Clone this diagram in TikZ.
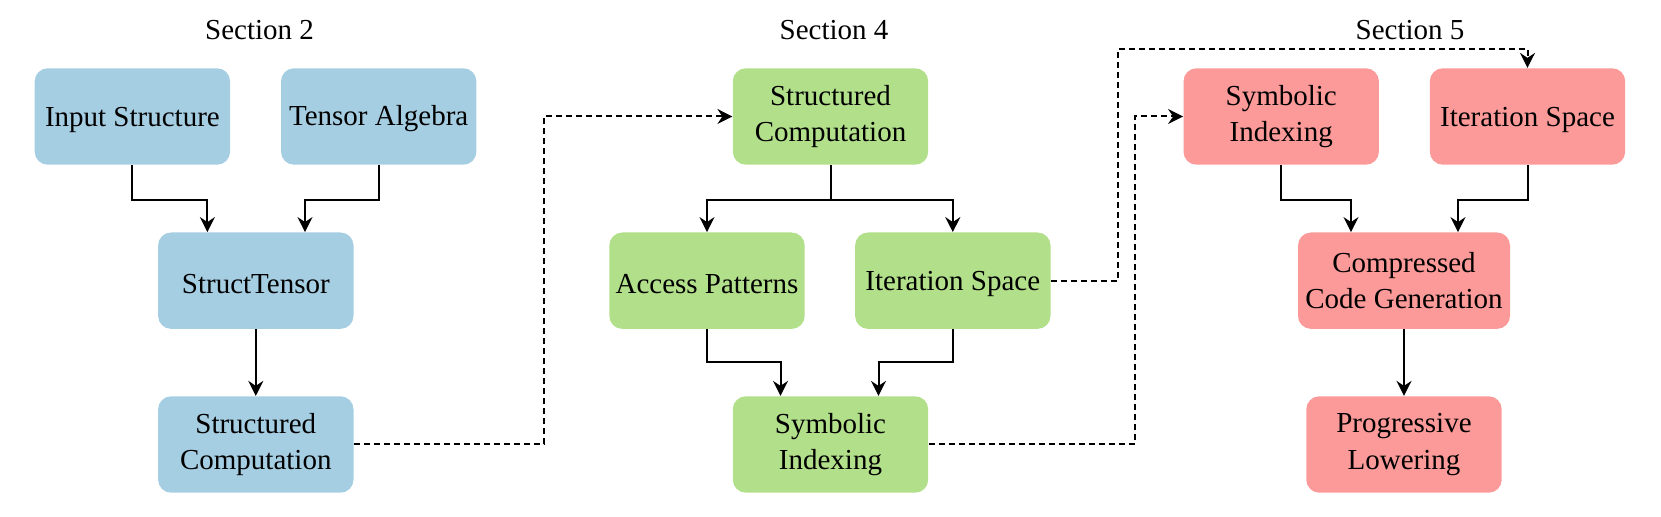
\documentclass[tikz,border=0pt]{standalone}
\usepackage{fontspec}
\setmainfont{Liberation Serif}
\usetikzlibrary{arrows.meta}
\definecolor{cblue}{HTML}{A6CEE3}
\definecolor{cgreen}{HTML}{B2DF8A}
\definecolor{cred}{HTML}{FB9A99}
\tikzset{
  box/.style={rounded corners=6.5pt, minimum width=97.7pt, minimum height=48.2pt, inner sep=0pt, align=center, font=\fontsize{14.5}{18.3}\selectfont, execute at begin node={\rule{0pt}{12.6pt}}},
  bluebox/.style={box, fill=cblue},
  greenbox/.style={box, fill=cgreen},
  redbox/.style={box, fill=cred},
  title/.style={font=\fontsize{14.5}{18.3}\selectfont, inner sep=0pt},
  arr/.style={line width=1pt, -{Stealth[length=7.5pt,width=7.5pt,inset=2.5pt]}},
  dsh/.style={arr, dashed, dash pattern=on 3pt off 2pt}
}
\begin{document}
\begin{tikzpicture}[x=0.5pt,y=-0.5pt]
\useasboundingbox (0,0) rectangle (1661,517);
% titles
\node[title] (t2) at (259.5,29.7) {Section 2};
\node[title] (t4) at (834,29.7) {Section 4};
\node[title] (t5) at (1410,29.7) {Section 5};
% section 2
\node[bluebox] (in) at (132.4,116.5) {Input Structure};
\node[bluebox] (ta) at (378.7,116.5) {Tensor Algebra};
\node[bluebox] (st) at (255.8,280.7) {StructTensor};
\node[bluebox] (sc2) at (255.8,444.5) {Structured\\Computation};
% section 4
\node[greenbox] (sc4) at (830.5,116.5) {Structured\\Computation};
\node[greenbox] (ap) at (707,280.7) {Access Patterns};
\node[greenbox] (is4) at (952.8,280.7) {Iteration Space};
\node[greenbox] (si4) at (830.5,444.5) {Symbolic\\Indexing};
% section 5
\node[redbox] (si5) at (1281.2,116.5) {Symbolic\\Indexing};
\node[redbox] (is5) at (1527.5,116.5) {Iteration Space};
\node[redbox, minimum width=106pt] (cg) at (1404,280.7) {Compressed\\Code Generation};
\node[redbox] (pl) at (1404,444.5) {Progressive\\Lowering};
% solid connectors
\draw[arr] (in.south) -- ++(0,-17.5pt) -| ([xshift=-24.2pt]st.north);
\draw[arr] (ta.south) -- ++(0,-17.5pt) -| ([xshift=24.6pt]st.north);
\draw[arr] (st.south) -- (sc2.north);
\draw[arr] (sc4.south) -- ++(0,-17.5pt) -| (ap.north);
\draw[arr] (sc4.south) -- ++(0,-17.5pt) -| (is4.north);
\draw[arr] (ap.south) -- ++(0,-16.5pt) -| ([xshift=-25pt]si4.north);
\draw[arr] (is4.south) -- ++(0,-16.5pt) -| ([xshift=24pt]si4.north);
\draw[arr] (si5.south) -- ++(0,-17.5pt) -| ([xshift=-26.5pt]cg.north);
\draw[arr] (is5.south) -- ++(0,-17.5pt) -| ([xshift=27pt]cg.north);
\draw[arr] (cg.south) -- (pl.north);
% dashed connectors
\draw[dsh] (sc2.east) -- ++(95pt,0) |- (sc4.west);
\draw[dsh] (is4.east) -- ++(33.5pt,0) |- ([yshift=9.5pt]is5.north) -- (is5.north);
\draw[dsh] (si4.east) -- ++(103pt,0) |- (si5.west);
\end{tikzpicture}
\end{document}
